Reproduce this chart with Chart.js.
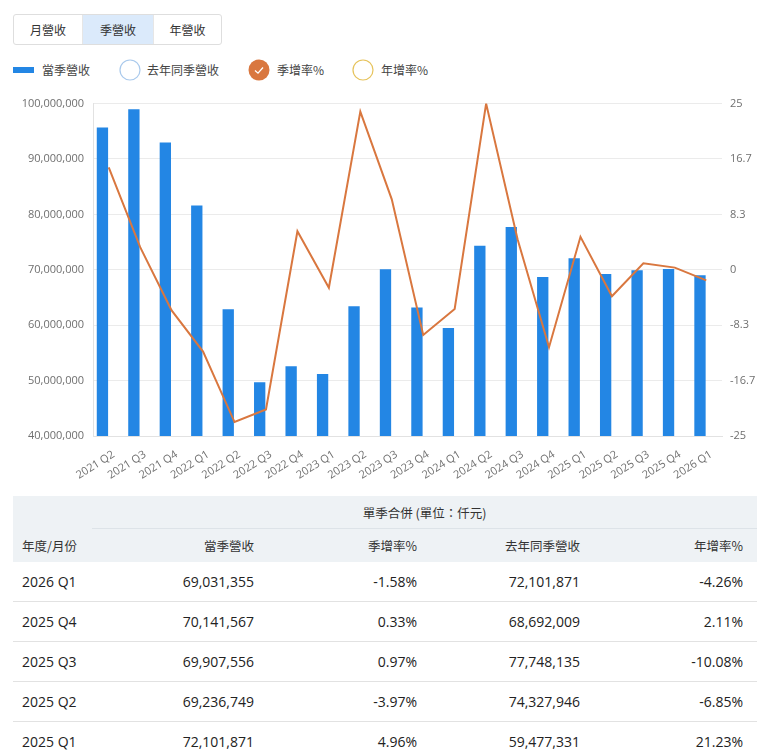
<!DOCTYPE html>
<html>
<head>
<meta charset="utf-8">
<script src="https://cdn.jsdelivr.net/npm/chart.js@4/dist/chart.umd.min.js"></script>
<style>
    body { margin: 0; background: #fff; font-family: "Open Sans", "Noto Sans CJK TC", sans-serif; color: #333; }
    #page { position: relative; width: 767px; height: 755px; overflow: hidden; }
    .tabs { position: absolute; left: 13px; top: 14px; height: 29px; display: flex; border: 1px solid #dedede; border-radius: 3px; overflow: hidden; }
    .tab { height: 29px; line-height: 29px; text-align: center; font-size: 12px; color: #333; font-family: "Noto Sans CJK TC", sans-serif; }
    .tab + .tab { border-left: 1px solid #e6e6e6; }
    .tab.active { background: #dbeafb; }
    .legend { position: absolute; top: 59px; left: 0; height: 22px; width: 767px; font-size: 12px; color: #444; font-family: "Noto Sans CJK TC", sans-serif; }
    .legend span, .legend svg { position: absolute; }
    .legend span { top: 2px; line-height: 18px; }
    #chartBox { position: absolute; left: 0; top: 88px; width: 767px; height: 392px; }
    table { position: absolute; left: 13px; top: 496px; width: 744px; border-collapse: collapse; font-size: 14px; table-layout: fixed; }
    thead tr { background: #eef2f5; }
    th { font-weight: normal; font-size: 12.5px; color: #333; font-family: "Noto Sans CJK TC", sans-serif; }
    th.title { height: 32px; text-align: center; padding: 0; }
    th.sub { height: 33px; text-align: right; padding: 0 14px 0 0; }
    th.first { text-align: left; padding: 0 0 0 9px; }
    .titleLine { border-bottom: 1px solid #dde3e8; }
    td { height: 39px; border-bottom: 1px solid #e2e2e2; text-align: right; padding: 0 14px 0 0; color: #222; }
    td:first-child { text-align: left; padding: 0 0 0 9px; }
</style>
</head>
<body>
<div id="page">
    <div class="tabs">
        <div class="tab" style="width:68px">月營收</div>
        <div class="tab active" style="width:70px">季營收</div>
        <div class="tab" style="width:67px">年營收</div>
    </div>

    <div class="legend">
        <svg style="left:13px;top:8px" width="21" height="6"><rect width="21" height="6" fill="#2386e4"/></svg>
        <span style="left:42px">當季營收</span>
        <svg style="left:119px;top:0" width="22" height="22"><circle cx="11" cy="11" r="10" fill="#fff" stroke="#a9c9ec" stroke-width="1.2"/></svg>
        <span style="left:147px">去年同季營收</span>
        <svg style="left:248px;top:0" width="22" height="22"><circle cx="11" cy="11" r="10.5" fill="#d9773f"/><path d="M7 11.5 L10 14.2 L15 8.5" fill="none" stroke="#fff" stroke-width="1.3"/></svg>
        <span style="left:277px">季增率%</span>
        <svg style="left:352px;top:0" width="22" height="22"><circle cx="11" cy="11" r="10" fill="#fff" stroke="#e6c35c" stroke-width="1.2"/></svg>
        <span style="left:381px">年增率%</span>
    </div>

    <div id="chartBox"><canvas id="revChart" width="767" height="392"></canvas></div>

    <table id="revTable">
        <colgroup>
            <col style="width:79px"><col style="width:176px"><col style="width:163px"><col style="width:163px"><col style="width:163px">
        </colgroup>
        <thead>
            <tr><th></th><th class="title titleLine" colspan="4">單季合併 (單位：仟元)</th></tr>
            <tr>
                <th class="sub first">年度/月份</th>
                <th class="sub">當季營收</th>
                <th class="sub">季增率%</th>
                <th class="sub">去年同季營收</th>
                <th class="sub">年增率%</th>
            </tr>
        </thead>
        <tbody></tbody>
    </table>
</div>

<script>
// 季度
const quarters = [
    "2021 Q2", "2021 Q3", "2021 Q4", "2022 Q1", "2022 Q2", "2022 Q3", "2022 Q4",
    "2023 Q1", "2023 Q2", "2023 Q3", "2023 Q4", "2024 Q1", "2024 Q2", "2024 Q3",
    "2024 Q4", "2025 Q1", "2025 Q2", "2025 Q3", "2025 Q4", "2026 Q1"
];

// 當季營收 (仟元)
const revenue = [
    95700000, 99000000, 93000000, 81600000, 62900000, 49700000, 52600000,
    51200000, 63400000, 70100000, 63200000, 59477331, 74327946, 77748135,
    68692009, 72101871, 69236749, 69907556, 70141567, 69031355
];

// 去年同季營收 (仟元) - выключен в легенде, но место под столбцы остаётся
const lastYearRevenue = [
    null, null, null, null, 95700000, 99000000, 93000000,
    81600000, 62900000, 49700000, 52600000, 51200000, 63400000, 70100000,
    63200000, 59477331, 74327946, 77748135, 68692009, 72101871
];

// 季增率 %
const qoqGrowth = [
    15.4, 3.4, -6.1, -12.3, -22.9, -21.0, 5.8,
    -2.7, 23.8, 10.6, -9.8, -5.9, 25.0, 4.6,
    -11.65, 4.96, -3.97, 0.97, 0.33, -1.58
];

// 年增率 %
const yoyGrowth = [
    null, null, null, null, -34.3, -49.8, -43.4,
    -37.3, 0.8, 41.0, 20.2, 16.2, 17.2, 10.9,
    8.7, 21.23, -6.85, -10.08, 2.11, -4.26
];

// Подписи осей
const leftTicks = [40000000, 50000000, 60000000, 70000000, 80000000, 90000000, 100000000];
const rightTicks = [-25, -16.7, -8.3, 0, 8.3, 16.7, 25];

const tickColor = "#6f6f6f";
const tickFont = { family: "'Open Sans', sans-serif", size: 11 };

new Chart(document.getElementById("revChart"), {
    type: "bar",
    data: {
        labels: quarters,
        datasets: [
            {
                type: "line",
                label: "季增率%",
                data: qoqGrowth,
                yAxisID: "yRate",
                borderColor: "#d9773f",
                borderWidth: 2,
                pointRadius: 0,
                tension: 0,
                order: 0,
            },
            {
                type: "line",
                label: "年增率%",
                data: yoyGrowth,
                yAxisID: "yRate",
                borderColor: "#e6c35c",
                pointRadius: 0,
                hidden: true,
                order: 0,
            },
            {
                label: "當季營收",
                data: revenue,
                yAxisID: "yRev",
                backgroundColor: "#2386e4",
                order: 1,
            },
            {
                label: "去年同季營收",
                data: lastYearRevenue,
                yAxisID: "yRev",
                backgroundColor: "rgba(0,0,0,0)",
                order: 2,
            },
        ],
    },
    options: {
        responsive: false,
        animation: false,
        layout: { padding: { top: 15, left: 0, right: 0, bottom: 0 } },
        plugins: {
            legend: { display: false },
            tooltip: { enabled: false },
        },
        scales: {
            x: {
                grid: { display: false },
                border: { color: "#e2e2e2" },
                ticks: { color: tickColor, font: tickFont, minRotation: 32, maxRotation: 32, padding: 4, labelOffset: 5, autoSkip: false },
                afterFit: (scale) => { scale.height = 44; },
            },
            yRev: {
                position: "left",
                min: 40000000,
                max: 100000000,
                grid: { color: "#ebebeb", drawTicks: false },
                border: { color: "#e2e2e2" },
                ticks: {
                    color: tickColor,
                    font: tickFont,
                    padding: 9,
                    callback: (v) => v.toLocaleString("en-US"),
                },
                afterBuildTicks: (axis) => { axis.ticks = leftTicks.map((v) => ({ value: v })); },
                afterFit: (scale) => { scale.width = 93; },
            },
            yRate: {
                position: "right",
                min: -25,
                max: 25,
                grid: { display: false, drawTicks: false },
                border: { display: false },
                ticks: { color: tickColor, font: tickFont, padding: 8 },
                afterBuildTicks: (axis) => { axis.ticks = rightTicks.map((v) => ({ value: v })); },
                afterFit: (scale) => { scale.width = 45; },
            },
        },
    },
});

// Таблица: последние 5 кварталов, от новых к старым
const tbody = document.querySelector("#revTable tbody");
const pct = (v) => v.toFixed(2) + "%";
for (let i = quarters.length - 1; i >= quarters.length - 5; i--) {
    const tr = document.createElement("tr");
    tr.innerHTML =
        "<td>" + quarters[i] + "</td>" +
        "<td>" + revenue[i].toLocaleString("en-US") + "</td>" +
        "<td>" + pct(qoqGrowth[i]) + "</td>" +
        "<td>" + lastYearRevenue[i].toLocaleString("en-US") + "</td>" +
        "<td>" + pct(yoyGrowth[i]) + "</td>";
    tbody.appendChild(tr);
}
</script>
</body>
</html>
